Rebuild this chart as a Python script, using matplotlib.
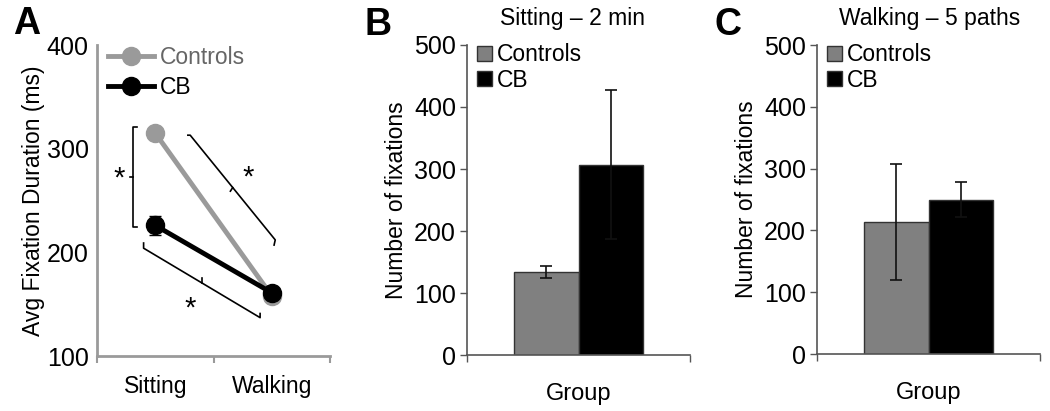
import matplotlib
matplotlib.use("Agg")
import matplotlib.pyplot as plt
from matplotlib.lines import Line2D
import numpy as np

plt.rcParams['font.family'] = ['Liberation Sans', 'DejaVu Sans']

# Panel A data
conditions = ["Sitting", "Walking"]
ctrl_dur = [315, 158]
ctrl_dur_err = [6, 4]
cb_dur = [226, 161]
cb_dur_err = [9, 5]

# Panels B/C data
groups = ["Controls", "CB"]
sit_counts = [134, 307]
sit_err = [10, 120]
walk_counts = [213, 250]
walk_err = [94, 28]

W, H = 1050, 411
fig = plt.figure(figsize=(W / 100, H / 100), dpi=100)

def fx(px):
    return px / W

def fy(py):
    return 1 - py / H

TICK = 18
LAB = 16.5
light = '#9a9a9a'
axA = fig.add_axes([fx(97), fy(356), fx(330) - fx(97), fy(45) - fy(356)])
x = np.array([0.5, 1.5])
axA.errorbar(x, ctrl_dur, yerr=ctrl_dur_err, color=light, lw=3.5, marker='o', ms=13,
             capsize=4, elinewidth=1.2, zorder=3)
axA.errorbar(x, cb_dur, yerr=cb_dur_err, color='black', lw=3.5, marker='o', ms=13,
             capsize=4, elinewidth=1.2, zorder=4)
axA.set_xlim(0, 2)
axA.set_ylim(100, 400)
axA.set_yticks([100, 200, 300, 400])
axA.set_xticks([0, 1, 2])
axA.set_xticklabels([])
axA.set_xticks(x, minor=True)
axA.set_xticklabels(conditions, minor=True)
axA.tick_params(axis='x', which='minor', length=0, labelsize=LAB, pad=14)
axA.tick_params(axis='x', which='major', length=5, width=1.5, color=light, direction='out')
axA.tick_params(axis='y', length=0, labelsize=TICK, pad=6)
for s in ['top', 'right']:
    axA.spines[s].set_visible(False)
for s in ['left', 'bottom']:
    axA.spines[s].set_color(light)
    axA.spines[s].set_linewidth(2)
axA.set_ylabel('Avg Fixation Duration (ms)', fontsize=LAB, labelpad=1)
handles = [Line2D([], [], color=light, lw=3.5, marker='o', ms=13),
           Line2D([], [], color='black', lw=3.5, marker='o', ms=13)]
leg = axA.legend(handles, groups, loc='upper left', bbox_to_anchor=(-0.01, 1.04), frameon=False,
                 fontsize=LAB, handlelength=2.0, handletextpad=0.25, labelspacing=0.3,
                 borderaxespad=0.2)
for t, c in zip(leg.get_texts(), ['#666666', 'black']):
    t.set_color(c)

# significance brackets
lw_b = 1.2
axA.plot([0.34, 0.31, 0.31, 0.34], [321, 321, 224.5, 224.5], color='black', lw=lw_b)
axA.plot([0.31, 0.28], [273, 273], color='black', lw=lw_b)
axA.text(0.19, 271, '*', fontsize=21, ha='center', va='center')
axA.plot([0.78, 0.80, 1.53, 1.52], [313, 313, 212, 207], color='black', lw=lw_b)
axA.plot([1.165, 1.145], [262.5, 259], color='black', lw=lw_b)
axA.text(1.30, 272, '*', fontsize=21, ha='center', va='center')
axA.plot([0.40, 0.40, 1.40, 1.40], [209, 204, 137, 141], color='black', lw=lw_b)
axA.plot([0.90, 0.90], [170.5, 175], color='black', lw=lw_b)
axA.text(0.80, 146, '*', fontsize=21, ha='center', va='center')

fig.text(fx(27), fy(24), 'A', fontsize=27, fontweight='bold', ha='center', va='center')

def bar_panel(left, right, bottom, title, letter, counts, errs, tx):
    ax = fig.add_axes([fx(left), fy(bottom), fx(right) - fx(left), fy(45) - fy(bottom)])
    w = 0.287
    colors = ['#808080', '#000000']
    offs = [-w / 2, w / 2]
    for i in range(2):
        ax.bar(0.5 + offs[i], counts[i], width=w, color=colors[i], edgecolor='#333333',
               lw=1, label=groups[i], zorder=2)
        ax.errorbar(0.5 + offs[i], counts[i], yerr=errs[i], color='#111111', capsize=4,
                    elinewidth=1.2, capthick=1.2, fmt='none', zorder=3)
    ax.set_xlim(0, 1)
    ax.set_ylim(0, 500)
    ax.set_yticks([0, 100, 200, 300, 400, 500])
    ax.set_xticks([0, 1])
    ax.set_xticklabels([])
    ax.set_xticks([0.5], minor=True)
    ax.set_xticklabels(['Group'], minor=True)
    ax.tick_params(axis='x', which='minor', length=0, labelsize=17, pad=20)
    ax.tick_params(axis='x', which='major', length=5, width=1, color='#555555')
    ax.tick_params(axis='y', length=5, width=1, color='#555555', labelsize=TICK, pad=3)
    for s in ['top', 'right']:
        ax.spines[s].set_visible(False)
    for s in ['left', 'bottom']:
        ax.spines[s].set_color('#555555')
        ax.spines[s].set_linewidth(1.2)
    ax.set_ylabel('Number of fixations', fontsize=LAB, labelpad=4)
    ax.legend(loc='upper left', bbox_to_anchor=(-0.017, 1.05), frameon=False, fontsize=LAB,
              handlelength=0.65, handleheight=0.65, handletextpad=0.2, labelspacing=0.1,
              borderaxespad=0.2)
    fig.text(fx(tx), fy(19), title, fontsize=16.5, ha='center', va='center')
    fig.text(fx(left - 89), fy(25), letter, fontsize=27, fontweight='bold', ha='center', va='center')
    return ax

bar_panel(467, 690, 355, 'Sitting – 2 min', 'B', sit_counts, sit_err, 572)
bar_panel(817, 1040, 354, 'Walking – 5 paths', 'C', walk_counts, walk_err, 930)

fig.savefig('out.png', dpi=100)
